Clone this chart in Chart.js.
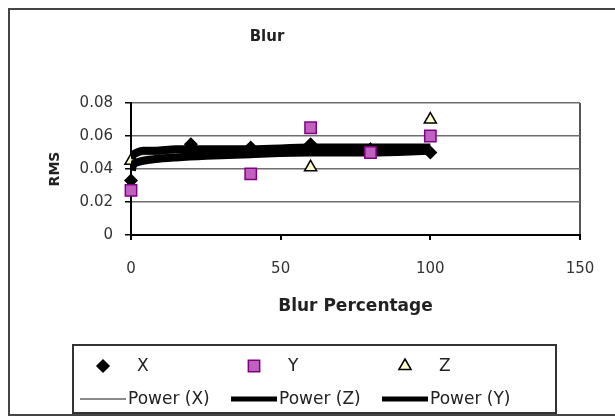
<!DOCTYPE html>
<html>
<head>
<meta charset="utf-8">
<script src="https://cdn.jsdelivr.net/npm/chart.js@4/dist/chart.umd.min.js"></script>
<style>
  body { margin: 0; background: #fff; }
  #wrap { position: relative; width: 615px; height: 419px; overflow: hidden; }
  #frame { position: absolute; left: 8px; top: 8px; width: 700px; height: 404px; border: 2px solid #444; }
  #myChart { position: absolute; left: 0; top: 0; }
</style>
</head>
<body>
<div id="wrap">
  <div id="frame"></div>
  <canvas id="myChart" width="615" height="419"></canvas>
</div>
<script>
// measured points (null = no marker visible)
const blurLevels = [0, 20, 40, 60, 80, 100];
const rmsX = [0.033, 0.055, 0.053, 0.055, 0.052, 0.050];
const rmsY = [0.027, null, 0.037, 0.065, 0.050, 0.060];
const rmsZ = [0.045, 0.052, 0.050, 0.041, 0.051, 0.070];

// power trendlines
const fitLevels = [0.3, 0.6, 1, 2, 4, 8, 15, 25, 40, 60, 80, 100];
const powerX = [0.044, 0.046, 0.047, 0.048, 0.049, 0.049, 0.050, 0.050, 0.051, 0.051, 0.051, 0.052];
const powerZ = [0.046, 0.048, 0.049, 0.050, 0.051, 0.051, 0.052, 0.052, 0.052, 0.053, 0.053, 0.053];
const powerY = [0.039, 0.042, 0.043, 0.044, 0.045, 0.046, 0.047, 0.048, 0.049, 0.050, 0.050, 0.051];

const xTicks = [0, 50, 100, 150];
const yTicks = [0, 0.02, 0.04, 0.06, 0.08];

const FONT = '"DejaVu Sans", Verdana, sans-serif';

function pairs(xs, ys) {
  return xs.map((x, i) => ({ x: x, y: ys[i] }));
}

function pointSet(label, ys, style, radius, fill, stroke, order) {
  return {
    label: label,
    data: pairs(blurLevels, ys),
    pointStyle: style,
    pointRadius: radius,
    backgroundColor: fill,
    borderColor: stroke,
    borderWidth: 1.5,
    showLine: false,
    clip: false,
    order: order
  };
}

function trendSet(label, ys, color, width, order) {
  return {
    label: label,
    data: pairs(fitLevels, ys),
    showLine: true,
    pointRadius: 0,
    borderColor: color,
    backgroundColor: color,
    borderWidth: width,
    cubicInterpolationMode: 'monotone',
    order: order
  };
}

function drawMarker(ctx, style, x, y, r, fill, stroke) {
  ctx.beginPath();
  if (style === 'rectRot') {
    ctx.moveTo(x, y - r); ctx.lineTo(x + r, y); ctx.lineTo(x, y + r); ctx.lineTo(x - r, y);
  } else if (style === 'rect') {
    const s = r * Math.SQRT1_2;
    ctx.rect(x - s, y - s, 2 * s, 2 * s);
  } else {
    ctx.moveTo(x, y - r); ctx.lineTo(x + r * 0.87, y + r * 0.5); ctx.lineTo(x - r * 0.87, y + r * 0.5);
  }
  ctx.closePath();
  ctx.fillStyle = fill; ctx.fill();
  ctx.strokeStyle = stroke; ctx.lineWidth = 1.5; ctx.stroke();
}

// title and boxed legend, drawn the way the old spreadsheet laid them out
const decorations = {
  id: 'decorations',
  afterDraw(chart) {
    const ctx = chart.ctx;
    ctx.save();
    ctx.fillStyle = '#222';
    ctx.textAlign = 'center';
    ctx.textBaseline = 'middle';
    ctx.font = 'bold 15px ' + FONT;
    ctx.fillText('Blur', 267, 37);

    ctx.strokeStyle = '#333';
    ctx.lineWidth = 2;
    ctx.strokeRect(73, 345, 483, 68);

    ctx.textAlign = 'left';
    ctx.font = '17px ' + FONT;
    const ds = chart.data.datasets;
    for (let c = 0; c < 3; c++) {
      const p = ds[c];
      const colX = 80 + c * 151;
      drawMarker(ctx, p.pointStyle, colX + 23, 366, p.pointRadius, p.backgroundColor, p.borderColor);
      ctx.fillStyle = '#222';
      ctx.fillText(p.label, colX + 57, 367);

      const t = ds[c + 3];
      ctx.beginPath();
      ctx.moveTo(colX, 399); ctx.lineTo(colX + 46, 399);
      ctx.strokeStyle = t.borderColor;
      ctx.lineWidth = Math.min(t.borderWidth, 5);
      ctx.stroke();
      ctx.fillStyle = '#222';
      ctx.fillText(t.label, colX + 48, 400);
    }
    ctx.restore();
  }
};

const ctx = document.getElementById('myChart');
const myChart = new Chart(ctx, {
  type: 'scatter',
  data: {
    datasets: [
      pointSet('X', rmsX, 'rectRot', 6, '#000', '#000', 3),
      pointSet('Y', rmsY, 'rect', 8, '#c060c0', '#800080', 0),
      pointSet('Z', rmsZ, 'triangle', 7, '#ffffcc', '#000', 3),
      trendSet('Power (X)', powerX, '#8a8a8a', 2, 2),
      trendSet('Power (Z)', powerZ, '#000', 8, 1),
      trendSet('Power (Y)', powerY, '#000', 8, 1)
    ]
  },
  options: {
    responsive: false,
    animation: false,
    layout: { padding: { left: 42, top: 103, right: 35, bottom: 102 } },
    plugins: {
      legend: { display: false },
      title: { display: false },
      tooltip: { enabled: false }
    },
    scales: {
      x: {
        type: 'linear',
        min: xTicks[0],
        max: xTicks[xTicks.length - 1],
        afterBuildTicks: (scale) => { scale.ticks = xTicks.map(v => ({ value: v })); },
        afterFit: (scale) => { scale.height = 82; },
        ticks: { color: '#333', padding: 20, font: { family: FONT, size: 15 } },
        grid: {
          color: (c) => (c.tick && c.tick.value === 150 ? '#555' : 'rgba(0,0,0,0)'),
          tickColor: '#000',
          tickLength: 5,
          lineWidth: 2
        },
        border: { color: '#000', width: 2 },
        title: {
          display: true,
          text: 'Blur Percentage',
          color: '#222',
          padding: 0,
          font: { family: FONT, size: 17, weight: 'bold' }
        }
      },
      y: {
        min: yTicks[0],
        max: yTicks[yTicks.length - 1],
        afterBuildTicks: (scale) => { scale.ticks = yTicks.map(v => ({ value: v })); },
        afterFit: (scale) => { scale.width = 89; },
        ticks: {
          color: '#333',
          padding: 12,
          font: { family: FONT, size: 15 },
          callback: (v) => (v === 0 ? '0' : v.toFixed(2))
        },
        grid: { color: '#6e6e6e', tickColor: '#000', tickLength: 6, lineWidth: 1.5 },
        border: { color: '#000', width: 2 },
        title: {
          display: true,
          text: 'RMS',
          color: '#222',
          padding: { top: 5, bottom: 0 },
          font: { family: FONT, size: 14, weight: 'bold' }
        }
      }
    }
  },
  plugins: [decorations]
});
</script>
</body>
</html>
